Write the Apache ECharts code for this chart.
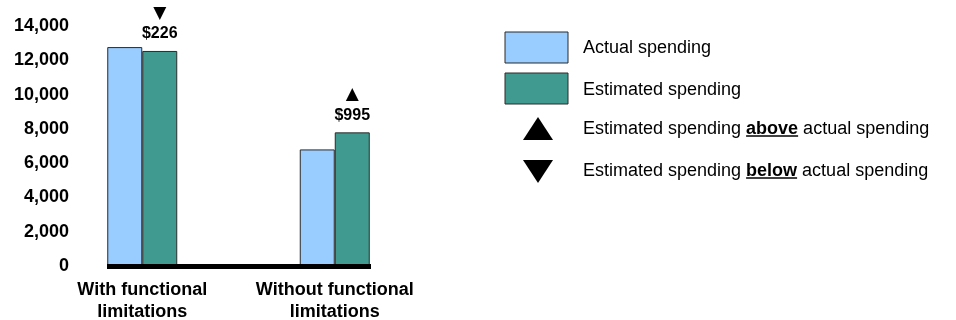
<!DOCTYPE html>
<html>
<head>
<meta charset="utf-8">
<script src="https://cdn.jsdelivr.net/npm/echarts@6/dist/echarts.min.js"></script>
<style>html,body{margin:0;padding:0;background:#fff;}#c{width:956px;height:320px;}</style>
</head>
<body>
<div id="c"></div>
<script>
var categories = ['With functional\nlimitations', 'Without functional\nlimitations'];
var actualSpending = [12770, 6800];
var estimatedSpending = [12544, 7795];
var differences = [-226, 995];
var yTicks = { min: 0, max: 14000, interval: 2000 };
var legendLabels = ['Actual spending', 'Estimated spending'];
var legendTriLabels = [['Estimated spending ', 'above', ' actual spending'], ['Estimated spending ', 'below', ' actual spending']];

var FONT = '"Liberation Sans", Arial, sans-serif';
var BLUE = '#99CCFF', TEAL = '#409A90', EDGE = '#2a2a2a';

function textWidth(t, f) {
  var c = document.createElement('canvas').getContext('2d');
  c.font = f;
  return c.measureText(t).width;
}

var chart = echarts.init(document.getElementById('c'));

var legendX = 505, textX = 583;
var rowY = [48, 90, 129, 171];
var graphics = [
  { type: 'rect', shape: { x: legendX, y: 32, width: 63, height: 31 }, style: { fill: BLUE, stroke: EDGE, lineWidth: 1 } },
  { type: 'rect', shape: { x: legendX, y: 73, width: 63, height: 31 }, style: { fill: TEAL, stroke: EDGE, lineWidth: 1 } },
  { type: 'polygon', shape: { points: [[523, 140], [538, 117], [553, 140]] }, style: { fill: '#000' } },
  { type: 'polygon', shape: { points: [[523, 160], [553, 160], [538, 183]] }, style: { fill: '#000' } }
];
legendLabels.forEach(function (t, i) {
  graphics.push({ type: 'text', x: textX, y: rowY[i], style: { text: t, font: '18px ' + FONT, fill: '#000', verticalAlign: 'middle' } });
});
legendTriLabels.forEach(function (parts, i) {
  var y = rowY[i + 2];
  graphics.push({ type: 'text', x: textX, y: y, style: {
    text: parts[0] + '{b|' + parts[1] + '}' + parts[2],
    font: '18px ' + FONT, fill: '#000', verticalAlign: 'middle',
    rich: { b: { fontWeight: 'bold', fontSize: 18, fontFamily: FONT } }
  } });
  var x0 = textX + textWidth(parts[0], '18px ' + FONT);
  var w = textWidth(parts[1], 'bold 18px ' + FONT);
  graphics.push({ type: 'line', shape: { x1: x0, y1: y + 7, x2: x0 + w, y2: y + 7 }, style: { stroke: '#000', lineWidth: 1.5 } });
});

var option = {
  animation: false,
  backgroundColor: '#fff',
  grid: [
    { left: 107, width: 264, top: 26, height: 240, outerBoundsMode: 'none', containLabel: false },
    { left: 46, width: 385, top: 26, height: 240, outerBoundsMode: 'none', containLabel: false }
  ],
  xAxis: [
    { type: 'category', gridIndex: 0, data: categories, z: 10,
      axisLine: { show: true, lineStyle: { color: '#000', width: 5, cap: 'butt' } },
      axisTick: { show: false }, axisLabel: { show: false }, splitLine: { show: false } },
    { type: 'category', gridIndex: 1, data: categories,
      axisLine: { show: false }, axisTick: { show: false }, splitLine: { show: false },
      axisLabel: { interval: 0, margin: 13, fontFamily: FONT, fontWeight: 'bold', fontSize: 18, color: '#000', lineHeight: 22 } }
  ],
  yAxis: [
    { type: 'value', gridIndex: 0, min: yTicks.min, max: yTicks.max, interval: yTicks.interval,
      axisLine: { show: false }, axisTick: { show: false }, splitLine: { show: false },
      axisLabel: { margin: 38, fontFamily: FONT, fontWeight: 'bold', fontSize: 18, color: '#000',
        formatter: function (v) { return v.toLocaleString('en-US'); } } },
    { type: 'value', gridIndex: 1, min: yTicks.min, max: yTicks.max, interval: yTicks.interval, show: false }
  ],
  series: [
    { name: legendLabels[0], type: 'bar', xAxisIndex: 1, yAxisIndex: 1, data: actualSpending,
      barWidth: 35, barGap: '0%',
      itemStyle: { color: BLUE, borderColor: EDGE, borderWidth: 1 } },
    { name: legendLabels[1], type: 'bar', xAxisIndex: 1, yAxisIndex: 1, data: estimatedSpending,
      barWidth: 35, barGap: '0%',
      itemStyle: { color: TEAL, borderColor: EDGE, borderWidth: 1 },
      label: { show: true, position: 'top', distance: 7,
        formatter: function (p) {
          var d = differences[p.dataIndex];
          return '{t|' + (d < 0 ? '\u25BC' : '\u25B2') + '}\n{v|$' + Math.abs(d).toLocaleString('en-US') + '}';
        },
        rich: {
          t: { fontFamily: '"DejaVu Sans", sans-serif', fontSize: 17, lineHeight: 21, color: '#000' },
          v: { fontFamily: FONT, fontWeight: 'bold', fontSize: 16, lineHeight: 20, color: '#000' }
        } } }
  ],
  graphic: graphics
};
chart.setOption(option);
</script>
</body>
</html>
